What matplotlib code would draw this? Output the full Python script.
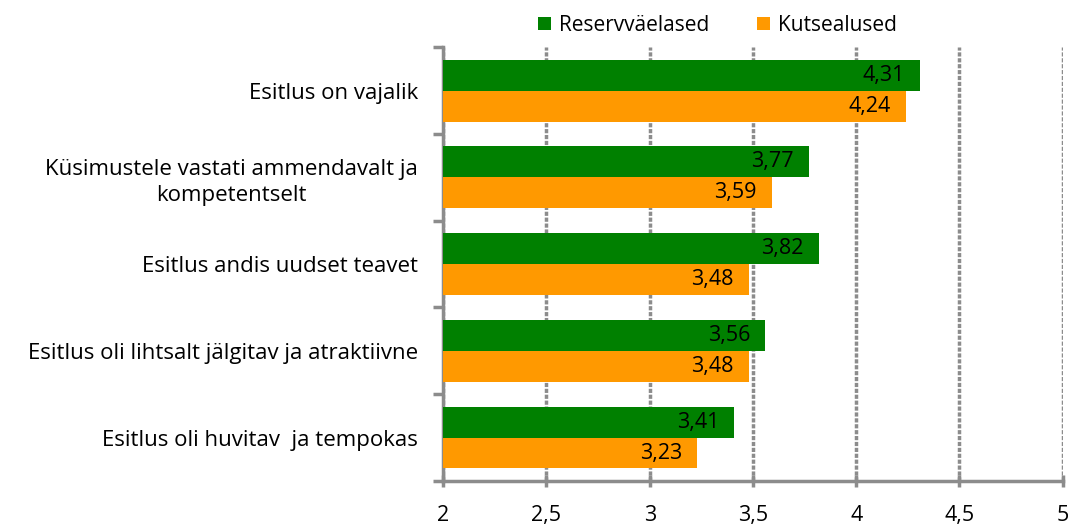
import numpy as np
import matplotlib.pyplot as plt

plt.rcParams['font.family'] = ['Open Sans', 'DejaVu Sans']

categories = ["Esitlus on vajalik",
              "Küsimustele vastati ammendavalt ja\nkompetentselt",
              "Esitlus andis uudset teavet",
              "Esitlus oli lihtsalt jälgitav ja atraktiivne",
              "Esitlus oli huvitav  ja tempokas"]
reserv = [4.31, 3.77, 3.82, 3.56, 3.41]
kutse = [4.24, 3.59, 3.48, 3.48, 3.23]
series_names = ["Reservväelased", "Kutsealused"]
xticks = [2, 2.5, 3, 3.5, 4, 4.5, 5]
xtick_labels = ["2", "2,5", "3", "3,5", "4", "4,5", "5"]

green = "#008000"
orange = "#FF9900"
gray = "#8C8C8C"

fig = plt.figure(figsize=(10.68, 5.25), dpi=100)
ax = fig.add_axes([0.415, 0.084, 0.58, 0.826])

y = np.arange(len(categories))
h = 0.357
b1 = ax.barh(y - h / 2, np.array(reserv) - 2, left=2, height=h, color=green, label=series_names[0], zorder=3)
b2 = ax.barh(y + h / 2, np.array(kutse) - 2, left=2, height=h, color=orange, label=series_names[1], zorder=3)

# value labels inside the bar ends
for vals, off in ((reserv, -h / 2), (kutse, h / 2)):
    for i, v in enumerate(vals):
        ax.annotate(f"{v:.2f}".replace(".", ","), (v, i + off), xytext=(-11, 0),
                    textcoords="offset points", ha="right", va="center",
                    fontsize=15.5, color="black", zorder=4)

ax.set_xlim(2, 5)
ax.set_ylim(len(categories) - 0.5, -0.5)
ax.set_xticks(xticks)
ax.set_xticklabels(xtick_labels, fontsize=15.5)
ax.set_yticks(y)
ax.set_yticklabels(categories, fontsize=16, multialignment="center", linespacing=1.3)
ax.set_yticks(np.arange(-0.5, len(categories)), minor=True)
ax.tick_params(axis="y", which="major", length=0, pad=18)
ax.tick_params(axis="y", which="minor", length=7, width=2.5, color=gray)
ax.tick_params(axis="x", length=8, width=2.5, color=gray, direction="inout", pad=13)

ax.grid(axis="x", color=gray, linestyle=(0, (1.2, 0.5)), linewidth=2.5, zorder=0)
for s in ("top", "right"):
    ax.spines[s].set_visible(False)
for s in ("left", "bottom"):
    ax.spines[s].set_color(gray)
    ax.spines[s].set_linewidth(2.5)

fig.legend(handles=[b1, b2], loc="center", bbox_to_anchor=(0.672, 0.952), ncol=2,
           frameon=False, fontsize=15, handlelength=0.6, handleheight=0.6,
           handletextpad=0.4, columnspacing=2.3)

fig.savefig("out.png", dpi=100)
